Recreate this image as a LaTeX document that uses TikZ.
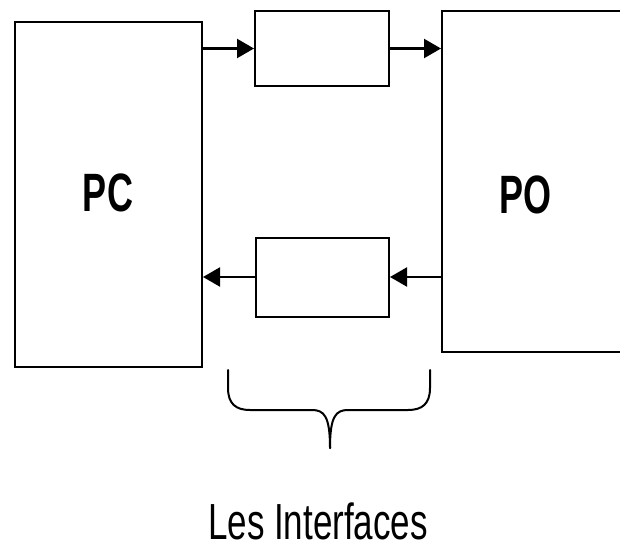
\documentclass[tikz,border=0pt]{standalone}
\usepackage{fontspec}
\setmainfont{Liberation Sans}
\usetikzlibrary{arrows.meta}
\begin{document}
\begin{tikzpicture}[x=1pt,y=-1pt,
  box/.style={draw=black,line width=2pt,rectangle,inner sep=0pt,fill=white},
  link/.style={line width=2.2pt,-{Triangle[length=17pt,width=19pt]}},
  bigtxt/.style={font=\fontsize{36}{40}\selectfont\bfseries,inner sep=0pt},
  captxt/.style={font=\fontsize{35}{40}\selectfont,inner sep=0pt}]
\useasboundingbox[fill=white] (0,0) rectangle (620,548);
\begin{scope}
\clip (0,0) rectangle (620,548);
\node[box,minimum width=200pt,minimum height=341pt] (po) at (542,181.5) {};
\end{scope}
\node[box,minimum width=187pt,minimum height=345pt] (pc) at (108.5,194.5) {};
\node[box,minimum width=134pt,minimum height=75pt] (b1) at (322,48.5) {};
\node[box,minimum width=133pt,minimum height=79pt] (b2) at (322.5,277) {};
\node[bigtxt] (pctext) at (108,193) {\scalebox{1}[1.5]{PC}};
\node[bigtxt] (potext) at (525,195) {\scalebox{1}[1.5]{PO}};
\draw[link] (pc.east |- b1.west) -- (b1.west);
\draw[link] (b1.east) -- (po.west |- b1.east);
\draw[link] (po.west |- b2.east) -- (b2.east);
\draw[link] (b2.west) -- (pc.east |- b2.west);
\coordinate (bl) at (228,370);
\coordinate (br) at (430,370);
\coordinate (tip) at (330,448);
\draw[line width=2pt,line cap=round] (bl) -- (228,388) .. controls (228,404) and (236,410) .. (250,410)
  -- (312,410) .. controls (324,410) and (330,416) .. (tip);
\draw[line width=2pt,line cap=round] (br) -- (430,388) .. controls (430,404) and (422,410) .. (408,410)
  -- (348,410) .. controls (336,410) and (330,416) .. (tip);
\node[captxt] (cap) at (318,521) {\scalebox{1}[1.45]{Les Interfaces}};
\end{tikzpicture}
\end{document}
